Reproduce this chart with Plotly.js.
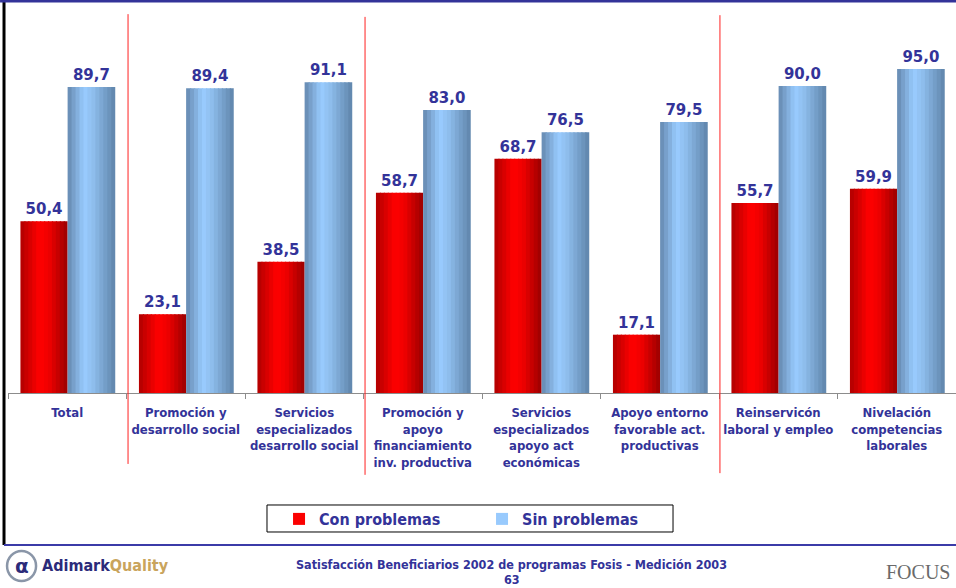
<!DOCTYPE html>
<html>
<head>
<meta charset="utf-8">
<script src="https://cdn.plot.ly/plotly-3.0.1.min.js"></script>
<style>html,body{margin:0;padding:0;background:#fff;}#chart{width:956px;height:588px;}</style>
</head>
<body>
<div id="chart"></div>
<script>
// ---- data ----
const categories = [
  "Total",
  "Promoción y<br>desarrollo social",
  "Servicios<br>especializados<br>desarrollo social",
  "Promoción y<br>apoyo<br>financiamiento<br>inv. productiva",
  "Servicios<br>especializados<br>apoyo act<br>económicas",
  "Apoyo entorno<br>favorable act.<br>productivas",
  "Reinservicón<br>laboral y empleo",
  "Nivelación<br>competencias<br>laborales"
];
const conProblemas = [50.4, 23.1, 38.5, 58.7, 68.7, 17.1, 55.7, 59.9];
const sinProblemas = [89.7, 89.4, 91.1, 83.0, 76.5, 79.5, 90.0, 95.0];
const seriesNames = ["Con problemas", "Sin problemas"];

// ---- styling helpers ----
const TXT = "#333399";
const COND = "DejaVu Sans Condensed, DejaVu Sans, sans-serif";
function hex(c){return [parseInt(c.slice(1,3),16),parseInt(c.slice(3,5),16),parseInt(c.slice(5,7),16)];}
function interp(stops, t){
  for(let i=0;i<stops.length-1;i++){
    const a=stops[i], b=stops[i+1];
    if(t>=a[0] && t<=b[0]){
      const u=(t-a[0])/(b[0]-a[0]); const ca=hex(a[1]), cb=hex(b[1]);
      return "rgb("+ca.map((v,k)=>Math.round(v+(cb[k]-v)*u)).join(",")+")";
    }
  }
  return stops[stops.length-1][1];
}
const redStops = [[0,"#B00000"],[0.4,"#FF0000"],[0.6,"#F00000"],[1,"#9A0000"]];
const blueStops = [[0,"#6588AE"],[0.35,"#99CCFF"],[0.55,"#8DBCEB"],[1,"#5F84AA"]];

const N = 12;
const traces = [];
function addSeries(vals, name, stops, off0, w, legendIdx){
  const sw = w/N;
  for(let i=0;i<N;i++){
    traces.push({
      type:"bar", x:categories, y:vals, name:name,
      width: Array(vals.length).fill(i===N-1 ? sw : sw*1.3),
      offset: Array(vals.length).fill(off0 + i*sw),
      marker:{color: interp(stops,(i+0.5)/N), line:{width:0}},
      showlegend: i===legendIdx, hoverinfo:"skip"
    });
  }
  traces.push({
    type:"bar", x:categories, y:vals, name:name+" labels",
    width: Array(vals.length).fill(w), offset: Array(vals.length).fill(off0),
    marker:{color:"rgba(0,0,0,0)", line:{width:0}},
    texttemplate:"<b>%{y:.1f}</b>", textposition:"outside", constraintext:"none",
    cliponaxis:false, textfont:{family:"DejaVu Sans, sans-serif", size:15, color:TXT},
    showlegend:false, hoverinfo:"skip"
  });
}
addSeries(conProblemas, seriesNames[0], redStops, -0.395, 0.398, 5);
addSeries(sinProblemas, seriesNames[1], blueStops, 0.003, 0.402, 4);

const layout = {
  width:956, height:588,
  margin:{l:8, r:0, t:52, b:195},
  paper_bgcolor:"#fff", plot_bgcolor:"#fff",
  barmode:"overlay", separators:",.",
  xaxis:{
    type:"category", showline:true, linecolor:"#8c8c8c", linewidth:1,
    ticks:"outside", ticklen:5, tickcolor:"#8c8c8c", tickson:"boundaries",
    showgrid:false, zeroline:false, fixedrange:true, ticklabelstandoff:7, tickangle:0,
    tickfont:{family:COND, size:13, color:TXT, weight:"bold"}
  },
  yaxis:{visible:false, range:[0,100], fixedrange:true},
  showlegend:true,
  legend:{orientation:"h", x:0.2859, xanchor:"left", y:-0.3695, yanchor:"middle",
    borderwidth:0, bgcolor:"rgba(0,0,0,0)", itemwidth:30,
    entrywidth:158, entrywidthmode:"pixels",
    font:{family:COND, size:16, color:TXT, weight:"bold"}, itemclick:false, itemdoubleclick:false},
  shapes:[
    {type:"line", xref:"x", yref:"paper", x0:0.513, x1:0.513, y0:-0.208, y1:1.111, line:{color:"#FF2020", width:1}},
    {type:"line", xref:"x", yref:"paper", x0:2.513, x1:2.513, y0:-0.24, y1:1.103, line:{color:"#FF2020", width:1}},
    {type:"line", xref:"x", yref:"paper", x0:5.508, x1:5.508, y0:-0.235, y1:1.108, line:{color:"#FF2020", width:1}},
    {type:"line", xref:"paper", yref:"paper", x0:-0.0042, x1:-0.0042, y0:-0.4457, y1:1.16, line:{color:"#000", width:3}},
    {type:"line", xref:"paper", yref:"paper", x0:-0.0084, x1:1, y0:1.1496, y1:1.1496, line:{color:"#333399", width:3}},
    {type:"line", xref:"paper", yref:"paper", x0:-0.0042, x1:1, y0:-0.4457, y1:-0.4457, line:{color:"#3B3BA8", width:2}},
    {type:"rect", xref:"paper", yref:"paper", x0:0.2732, x1:0.7015, y0:-0.3284, y1:-0.4076, line:{color:"#000", width:1}},
    {type:"circle", xref:"paper", yref:"paper", x0:-0.001, x1:0.0296, y0:-0.4632, y1:-0.5514, line:{color:"#8A96A8", width:2.5}}
  ],
  annotations:[
    {xref:"paper", yref:"paper", x:0.5316, y:-0.5015, text:"<b>Satisfacción Beneficiarios 2002 de programas Fosis - Medición 2003</b>",
     showarrow:false, xanchor:"center", yanchor:"middle", font:{family:COND, size:12.5, color:TXT}},
    {xref:"paper", yref:"paper", x:0.5316, y:-0.548, text:"<b>63</b>",
     showarrow:false, xanchor:"center", yanchor:"middle", font:{family:COND, size:12.5, color:TXT}},
    {xref:"paper", yref:"paper", x:0.0143, y:-0.507, text:"<b>α</b>",
     showarrow:false, xanchor:"center", yanchor:"middle", font:{family:"DejaVu Sans, sans-serif", size:20, color:"#2B2B7A"}},
    {xref:"paper", yref:"paper", x:0.0338, y:-0.507, text:"<b>Adimark</b><span style='color:#C9A45C'><b>Quality</b></span>",
     showarrow:false, xanchor:"left", yanchor:"middle", font:{family:COND, size:16, color:"#2B2B7A"}},
    {xref:"paper", yref:"paper", x:0.996, y:-0.525, text:"FOCUS",
     showarrow:false, xanchor:"right", yanchor:"middle", font:{family:"Liberation Serif, serif", size:20, color:"#6a6a6a"}}
  ]
};
Plotly.newPlot("chart", traces, layout, {displayModeBar:false, staticPlot:true});
</script>
</body>
</html>
